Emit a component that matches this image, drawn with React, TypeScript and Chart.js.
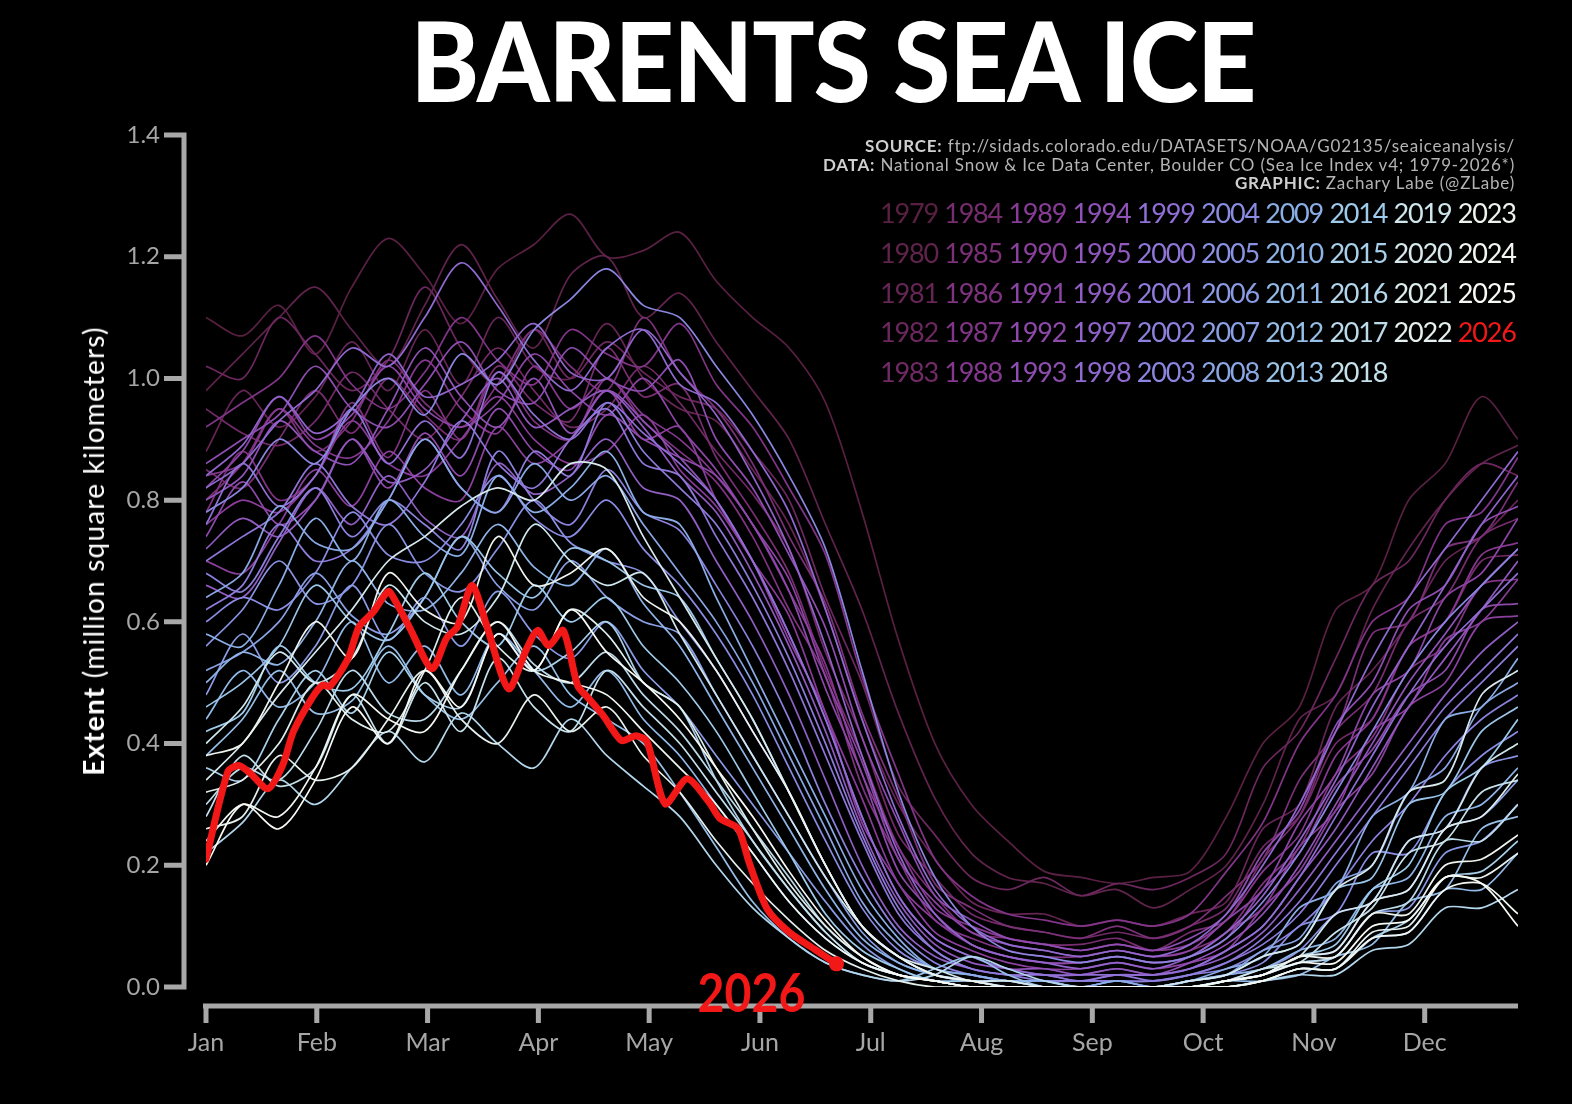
import React, { useEffect, useRef } from 'react'
import Chart from 'chart.js/auto'

// ---- data (million km²) ----
const monthLabels = ['Jan', 'Feb', 'Mar', 'Apr', 'May', 'Jun', 'Jul', 'Aug', 'Sep', 'Oct', 'Nov', 'Dec']
const monthTicks = [0, 30.4, 60.8, 91.2, 121.6, 152, 182.4, 212.8, 243.2, 273.6, 304, 334.4]
const yTicks = [0, 0.2, 0.4, 0.6, 0.8, 1.0, 1.2, 1.4]

// day of year for every yearly series below
const dayGrid = [0, 10, 20, 30, 40, 50, 60, 70, 80, 90, 100, 110, 120, 130, 140, 150, 160, 170, 180, 190, 200, 210, 220, 230, 240, 250, 260, 270, 280, 290, 300, 310, 320, 330, 340, 350, 360]

const ext1979 = [1.10, 1.07, 1.12, 1.04, 1.15, 1.23, 1.17, 1.09, 1.18, 1.22, 1.27, 1.20, 1.21, 1.24, 1.16, 1.10, 1.05, 0.96, 0.78, 0.57, 0.40, 0.30, 0.24, 0.19, 0.18, 0.17, 0.18, 0.19, 0.28, 0.40, 0.46, 0.62, 0.66, 0.80, 0.86, 0.97, 0.90]
const ext1980 = [0.98, 1.04, 1.10, 1.15, 1.08, 1.02, 1.12, 1.22, 1.13, 1.05, 1.17, 1.20, 1.10, 1.14, 1.06, 0.98, 0.90, 0.76, 0.62, 0.45, 0.31, 0.22, 0.18, 0.17, 0.15, 0.16, 0.13, 0.16, 0.20, 0.30, 0.44, 0.48, 0.62, 0.72, 0.80, 0.86, 0.89]
const ext1981 = [0.88, 0.98, 0.92, 0.97, 1.06, 0.98, 1.08, 0.99, 1.10, 1.02, 1.00, 1.09, 1.00, 0.95, 0.93, 0.85, 0.76, 0.62, 0.44, 0.30, 0.21, 0.14, 0.12, 0.12, 0.10, 0.11, 0.10, 0.12, 0.14, 0.26, 0.30, 0.46, 0.52, 0.60, 0.70, 0.74, 0.80]
const ext1982 = [1.02, 1.00, 1.10, 1.04, 0.98, 1.03, 1.15, 1.05, 0.99, 1.08, 1.00, 1.06, 1.01, 0.97, 0.95, 0.88, 0.80, 0.64, 0.50, 0.33, 0.25, 0.18, 0.16, 0.18, 0.15, 0.17, 0.16, 0.18, 0.22, 0.36, 0.42, 0.54, 0.66, 0.70, 0.80, 0.86, 0.84]
const ext1983 = [0.95, 0.91, 0.89, 0.93, 1.01, 0.95, 0.90, 0.97, 1.05, 0.98, 0.92, 0.95, 1.02, 0.96, 0.88, 0.81, 0.72, 0.55, 0.41, 0.25, 0.18, 0.12, 0.10, 0.09, 0.08, 0.09, 0.08, 0.10, 0.13, 0.23, 0.28, 0.40, 0.44, 0.56, 0.60, 0.70, 0.71]
const ext1984 = [0.85, 0.82, 0.90, 0.98, 0.91, 1.00, 0.94, 0.90, 1.02, 0.96, 0.93, 1.05, 0.97, 0.99, 0.87, 0.78, 0.68, 0.52, 0.38, 0.23, 0.15, 0.09, 0.08, 0.07, 0.07, 0.08, 0.06, 0.09, 0.11, 0.21, 0.28, 0.42, 0.48, 0.60, 0.64, 0.74, 0.77]
const ext1985 = [0.80, 0.86, 0.95, 0.88, 0.93, 1.03, 0.96, 0.92, 0.99, 1.08, 1.02, 0.98, 1.10, 1.01, 0.95, 0.86, 0.74, 0.63, 0.45, 0.31, 0.17, 0.13, 0.10, 0.09, 0.08, 0.10, 0.08, 0.10, 0.15, 0.21, 0.34, 0.42, 0.58, 0.60, 0.72, 0.74, 0.83]
const ext1986 = [0.78, 0.88, 0.80, 0.84, 0.96, 0.87, 0.98, 0.90, 1.01, 0.93, 0.90, 1.00, 0.93, 0.88, 0.83, 0.74, 0.62, 0.51, 0.33, 0.21, 0.11, 0.08, 0.06, 0.05, 0.05, 0.06, 0.05, 0.06, 0.09, 0.17, 0.23, 0.35, 0.41, 0.52, 0.56, 0.66, 0.67]
const ext1987 = [0.92, 0.96, 1.00, 1.07, 0.99, 0.95, 1.01, 1.10, 1.03, 0.99, 1.08, 1.04, 1.02, 1.09, 0.99, 0.92, 0.82, 0.71, 0.51, 0.35, 0.21, 0.15, 0.12, 0.11, 0.10, 0.11, 0.10, 0.12, 0.19, 0.27, 0.40, 0.48, 0.60, 0.64, 0.76, 0.78, 0.87]
const ext1988 = [0.84, 0.86, 0.95, 0.89, 0.87, 0.93, 1.03, 0.95, 0.91, 1.02, 0.95, 1.00, 0.94, 0.90, 0.84, 0.76, 0.65, 0.53, 0.35, 0.23, 0.13, 0.10, 0.08, 0.07, 0.06, 0.07, 0.06, 0.07, 0.11, 0.19, 0.25, 0.38, 0.44, 0.56, 0.60, 0.71, 0.73]
const ext1989 = [0.76, 0.80, 0.78, 0.84, 0.93, 0.86, 0.84, 0.90, 0.97, 0.90, 0.86, 0.88, 0.94, 0.85, 0.79, 0.70, 0.61, 0.45, 0.31, 0.17, 0.11, 0.07, 0.05, 0.04, 0.04, 0.05, 0.04, 0.05, 0.09, 0.13, 0.23, 0.29, 0.42, 0.46, 0.57, 0.60, 0.67]
const ext1990 = [0.70, 0.68, 0.76, 0.85, 0.79, 0.88, 0.82, 0.80, 0.92, 0.86, 0.90, 0.98, 0.90, 0.92, 0.80, 0.70, 0.57, 0.45, 0.27, 0.17, 0.09, 0.06, 0.04, 0.03, 0.03, 0.04, 0.03, 0.04, 0.06, 0.13, 0.19, 0.29, 0.35, 0.46, 0.50, 0.60, 0.61]
const ext1991 = [0.82, 0.88, 0.97, 0.90, 0.94, 1.02, 0.95, 0.92, 0.96, 1.04, 0.98, 0.94, 1.00, 0.92, 0.85, 0.76, 0.67, 0.51, 0.37, 0.21, 0.14, 0.09, 0.07, 0.06, 0.05, 0.06, 0.05, 0.06, 0.11, 0.16, 0.27, 0.35, 0.48, 0.52, 0.64, 0.68, 0.77]
const ext1992 = [0.74, 0.83, 0.76, 0.80, 0.90, 0.82, 0.91, 0.84, 0.95, 0.88, 0.85, 0.94, 0.90, 0.87, 0.84, 0.76, 0.65, 0.49, 0.35, 0.19, 0.12, 0.07, 0.05, 0.04, 0.04, 0.05, 0.04, 0.05, 0.08, 0.16, 0.22, 0.33, 0.39, 0.48, 0.52, 0.62, 0.63]
const ext1993 = [0.86, 0.90, 0.94, 1.02, 0.95, 0.92, 0.99, 1.06, 0.98, 0.96, 1.05, 1.00, 0.98, 1.03, 0.90, 0.82, 0.71, 0.59, 0.41, 0.27, 0.15, 0.11, 0.08, 0.07, 0.06, 0.07, 0.06, 0.08, 0.12, 0.22, 0.29, 0.43, 0.50, 0.62, 0.66, 0.76, 0.79]
const ext1994 = [0.80, 0.84, 0.93, 0.88, 0.86, 0.95, 1.05, 0.97, 0.92, 1.00, 0.91, 0.98, 0.93, 0.87, 0.80, 0.70, 0.58, 0.44, 0.28, 0.15, 0.08, 0.05, 0.03, 0.03, 0.02, 0.03, 0.02, 0.04, 0.07, 0.12, 0.20, 0.30, 0.40, 0.50, 0.58, 0.66, 0.72]
const ext1995 = [0.72, 0.77, 0.74, 0.80, 0.90, 0.83, 0.85, 0.93, 1.00, 0.92, 0.95, 0.98, 0.92, 0.84, 0.78, 0.68, 0.56, 0.42, 0.26, 0.14, 0.07, 0.04, 0.03, 0.02, 0.02, 0.03, 0.02, 0.03, 0.06, 0.10, 0.18, 0.26, 0.36, 0.46, 0.54, 0.62, 0.70]
const ext1996 = [0.66, 0.64, 0.73, 0.82, 0.76, 0.84, 0.77, 0.74, 0.86, 0.81, 0.84, 0.90, 0.82, 0.80, 0.70, 0.60, 0.48, 0.34, 0.20, 0.10, 0.05, 0.03, 0.02, 0.02, 0.01, 0.02, 0.02, 0.03, 0.05, 0.09, 0.16, 0.24, 0.32, 0.40, 0.48, 0.55, 0.60]
const ext1997 = [0.84, 0.89, 0.97, 0.91, 0.95, 1.04, 0.97, 0.99, 1.03, 1.09, 1.01, 1.00, 1.08, 1.01, 0.94, 0.84, 0.72, 0.56, 0.38, 0.22, 0.12, 0.07, 0.05, 0.04, 0.03, 0.04, 0.03, 0.05, 0.09, 0.15, 0.24, 0.34, 0.46, 0.56, 0.66, 0.76, 0.84]
const ext1998 = [0.82, 0.86, 0.93, 0.98, 1.05, 1.02, 1.10, 1.19, 1.12, 1.03, 0.98, 1.05, 1.08, 0.99, 0.96, 0.88, 0.78, 0.62, 0.44, 0.28, 0.16, 0.10, 0.07, 0.06, 0.05, 0.06, 0.05, 0.07, 0.12, 0.20, 0.30, 0.42, 0.54, 0.64, 0.72, 0.80, 0.88]
const ext1999 = [0.76, 0.86, 0.79, 0.84, 0.95, 0.86, 0.93, 0.87, 1.01, 0.94, 0.90, 0.96, 0.91, 0.86, 0.80, 0.70, 0.58, 0.44, 0.28, 0.15, 0.08, 0.05, 0.03, 0.02, 0.02, 0.02, 0.02, 0.03, 0.06, 0.10, 0.18, 0.28, 0.38, 0.48, 0.56, 0.62, 0.68]
const ext2000 = [0.70, 0.74, 0.78, 0.86, 0.79, 0.76, 0.83, 0.93, 0.86, 0.82, 0.90, 0.95, 0.86, 0.84, 0.74, 0.64, 0.52, 0.38, 0.24, 0.12, 0.06, 0.03, 0.02, 0.02, 0.01, 0.02, 0.01, 0.02, 0.04, 0.08, 0.14, 0.22, 0.30, 0.38, 0.46, 0.52, 0.58]
const ext2001 = [0.62, 0.66, 0.76, 0.70, 0.72, 0.80, 0.90, 0.82, 0.78, 0.88, 0.84, 0.96, 0.88, 0.82, 0.76, 0.66, 0.54, 0.40, 0.25, 0.13, 0.06, 0.03, 0.02, 0.01, 0.01, 0.01, 0.01, 0.02, 0.04, 0.07, 0.12, 0.20, 0.28, 0.36, 0.44, 0.50, 0.56]
const ext2002 = [0.68, 0.65, 0.74, 0.82, 0.74, 0.80, 0.76, 0.72, 0.88, 0.80, 0.76, 0.85, 0.78, 0.75, 0.66, 0.56, 0.44, 0.30, 0.18, 0.09, 0.04, 0.02, 0.01, 0.01, 0.01, 0.01, 0.01, 0.02, 0.03, 0.06, 0.10, 0.16, 0.24, 0.30, 0.38, 0.44, 0.48]
const ext2003 = [0.78, 0.82, 0.90, 0.86, 0.95, 1.00, 0.94, 1.04, 0.99, 1.08, 1.13, 1.18, 1.12, 1.10, 1.02, 0.94, 0.84, 0.72, 0.52, 0.32, 0.18, 0.10, 0.06, 0.05, 0.04, 0.05, 0.04, 0.05, 0.08, 0.14, 0.22, 0.32, 0.42, 0.52, 0.60, 0.66, 0.72]
const ext2004 = [0.60, 0.64, 0.62, 0.68, 0.78, 0.71, 0.70, 0.76, 0.84, 0.77, 0.74, 0.80, 0.72, 0.66, 0.58, 0.48, 0.36, 0.24, 0.13, 0.06, 0.03, 0.02, 0.01, 0.01, 0.00, 0.01, 0.00, 0.01, 0.02, 0.04, 0.10, 0.12, 0.22, 0.22, 0.32, 0.38, 0.42]
const ext2005 = [0.56, 0.62, 0.70, 0.63, 0.66, 0.76, 0.68, 0.65, 0.72, 0.80, 0.73, 0.70, 0.68, 0.60, 0.52, 0.42, 0.32, 0.20, 0.10, 0.05, 0.02, 0.01, 0.01, 0.00, 0.00, 0.00, 0.00, 0.01, 0.02, 0.03, 0.06, 0.12, 0.14, 0.24, 0.26, 0.36, 0.38]
const ext2006 = [0.48, 0.58, 0.50, 0.56, 0.66, 0.57, 0.64, 0.56, 0.65, 0.58, 0.54, 0.60, 0.52, 0.46, 0.38, 0.30, 0.22, 0.14, 0.07, 0.03, 0.01, 0.01, 0.00, 0.00, 0.00, 0.00, 0.00, 0.00, 0.01, 0.02, 0.04, 0.05, 0.12, 0.13, 0.22, 0.24, 0.30]
const ext2007 = [0.52, 0.55, 0.60, 0.68, 0.61, 0.58, 0.64, 0.74, 0.66, 0.62, 0.70, 0.64, 0.60, 0.58, 0.48, 0.38, 0.28, 0.18, 0.09, 0.04, 0.02, 0.01, 0.00, 0.00, 0.00, 0.00, 0.00, 0.00, 0.01, 0.02, 0.05, 0.06, 0.14, 0.16, 0.26, 0.28, 0.34]
const ext2008 = [0.64, 0.68, 0.79, 0.73, 0.72, 0.80, 0.90, 0.82, 0.78, 0.86, 0.80, 0.84, 0.76, 0.68, 0.60, 0.50, 0.38, 0.26, 0.14, 0.07, 0.03, 0.02, 0.01, 0.01, 0.00, 0.01, 0.00, 0.01, 0.02, 0.06, 0.08, 0.17, 0.20, 0.32, 0.36, 0.46, 0.50]
const ext2009 = [0.58, 0.56, 0.66, 0.77, 0.70, 0.80, 0.74, 0.71, 0.84, 0.78, 0.82, 0.88, 0.78, 0.76, 0.64, 0.52, 0.40, 0.28, 0.16, 0.08, 0.03, 0.02, 0.01, 0.01, 0.00, 0.01, 0.00, 0.01, 0.03, 0.05, 0.13, 0.16, 0.28, 0.32, 0.44, 0.46, 0.54]
const ext2010 = [0.50, 0.55, 0.53, 0.60, 0.70, 0.63, 0.62, 0.68, 0.76, 0.69, 0.66, 0.72, 0.63, 0.56, 0.46, 0.36, 0.26, 0.16, 0.08, 0.04, 0.02, 0.01, 0.00, 0.00, 0.00, 0.00, 0.00, 0.01, 0.02, 0.03, 0.06, 0.08, 0.16, 0.18, 0.28, 0.30, 0.36]
const ext2011 = [0.44, 0.52, 0.46, 0.50, 0.60, 0.50, 0.56, 0.48, 0.58, 0.52, 0.46, 0.52, 0.44, 0.38, 0.30, 0.22, 0.14, 0.08, 0.04, 0.02, 0.01, 0.00, 0.00, 0.00, 0.00, 0.00, 0.00, 0.00, 0.01, 0.01, 0.03, 0.03, 0.08, 0.09, 0.16, 0.16, 0.22]
const ext2012 = [0.38, 0.44, 0.52, 0.45, 0.47, 0.56, 0.48, 0.44, 0.50, 0.56, 0.48, 0.44, 0.40, 0.32, 0.23, 0.14, 0.08, 0.04, 0.02, 0.01, 0.03, 0.05, 0.02, 0.00, 0.00, 0.00, 0.00, 0.00, 0.00, 0.01, 0.02, 0.05, 0.07, 0.14, 0.16, 0.26, 0.28]
const ext2013 = [0.46, 0.50, 0.56, 0.66, 0.60, 0.57, 0.64, 0.74, 0.68, 0.64, 0.72, 0.70, 0.66, 0.64, 0.54, 0.44, 0.32, 0.20, 0.10, 0.05, 0.02, 0.01, 0.01, 0.00, 0.00, 0.00, 0.00, 0.01, 0.02, 0.05, 0.07, 0.16, 0.18, 0.30, 0.32, 0.42, 0.46]
const ext2014 = [0.42, 0.45, 0.56, 0.50, 0.49, 0.58, 0.68, 0.60, 0.56, 0.66, 0.60, 0.64, 0.56, 0.50, 0.42, 0.32, 0.22, 0.12, 0.06, 0.03, 0.01, 0.01, 0.00, 0.00, 0.00, 0.00, 0.00, 0.00, 0.01, 0.02, 0.05, 0.07, 0.16, 0.20, 0.32, 0.36, 0.44]
const ext2015 = [0.36, 0.34, 0.44, 0.52, 0.45, 0.55, 0.48, 0.46, 0.58, 0.52, 0.55, 0.60, 0.50, 0.46, 0.34, 0.24, 0.16, 0.09, 0.04, 0.02, 0.01, 0.00, 0.00, 0.00, 0.00, 0.00, 0.00, 0.00, 0.00, 0.01, 0.03, 0.03, 0.08, 0.11, 0.18, 0.19, 0.24]
const ext2016 = [0.22, 0.27, 0.34, 0.30, 0.36, 0.42, 0.37, 0.45, 0.40, 0.36, 0.44, 0.38, 0.33, 0.28, 0.20, 0.13, 0.08, 0.04, 0.02, 0.01, 0.02, 0.05, 0.03, 0.01, 0.00, 0.00, 0.00, 0.00, 0.00, 0.01, 0.02, 0.02, 0.06, 0.07, 0.13, 0.13, 0.16]
const ext2017 = [0.30, 0.36, 0.34, 0.42, 0.52, 0.45, 0.44, 0.52, 0.60, 0.53, 0.50, 0.55, 0.48, 0.42, 0.34, 0.26, 0.18, 0.10, 0.05, 0.02, 0.01, 0.00, 0.00, 0.00, 0.00, 0.00, 0.00, 0.00, 0.01, 0.02, 0.04, 0.05, 0.12, 0.14, 0.24, 0.24, 0.30]
const ext2018 = [0.28, 0.38, 0.33, 0.36, 0.48, 0.40, 0.50, 0.42, 0.54, 0.46, 0.42, 0.52, 0.46, 0.40, 0.32, 0.24, 0.16, 0.09, 0.04, 0.02, 0.01, 0.00, 0.00, 0.00, 0.00, 0.00, 0.00, 0.00, 0.01, 0.03, 0.04, 0.09, 0.13, 0.22, 0.24, 0.32, 0.34]
const ext2019 = [0.40, 0.46, 0.55, 0.50, 0.54, 0.66, 0.60, 0.58, 0.64, 0.76, 0.70, 0.66, 0.68, 0.58, 0.48, 0.38, 0.28, 0.18, 0.10, 0.05, 0.02, 0.01, 0.00, 0.00, 0.00, 0.00, 0.00, 0.00, 0.01, 0.03, 0.05, 0.12, 0.14, 0.24, 0.26, 0.36, 0.40]
const ext2020 = [0.34, 0.40, 0.48, 0.55, 0.62, 0.70, 0.74, 0.79, 0.82, 0.80, 0.86, 0.85, 0.74, 0.64, 0.54, 0.44, 0.32, 0.20, 0.10, 0.05, 0.03, 0.01, 0.01, 0.00, 0.00, 0.00, 0.00, 0.01, 0.02, 0.05, 0.07, 0.16, 0.20, 0.32, 0.34, 0.48, 0.52]
const ext2021 = [0.32, 0.34, 0.40, 0.50, 0.44, 0.42, 0.52, 0.64, 0.56, 0.52, 0.62, 0.58, 0.50, 0.46, 0.36, 0.26, 0.17, 0.10, 0.05, 0.02, 0.01, 0.00, 0.00, 0.00, 0.00, 0.00, 0.00, 0.00, 0.01, 0.02, 0.05, 0.06, 0.14, 0.16, 0.26, 0.28, 0.35]
const ext2022 = [0.26, 0.28, 0.38, 0.34, 0.36, 0.44, 0.52, 0.44, 0.40, 0.48, 0.42, 0.46, 0.38, 0.32, 0.24, 0.17, 0.11, 0.06, 0.03, 0.01, 0.00, 0.00, 0.00, 0.00, 0.00, 0.00, 0.00, 0.00, 0.00, 0.01, 0.03, 0.03, 0.09, 0.10, 0.18, 0.18, 0.22]
const ext2023 = [0.38, 0.40, 0.50, 0.60, 0.54, 0.68, 0.62, 0.60, 0.74, 0.66, 0.68, 0.72, 0.64, 0.60, 0.52, 0.42, 0.32, 0.20, 0.10, 0.05, 0.02, 0.01, 0.00, 0.00, 0.00, 0.00, 0.00, 0.00, 0.01, 0.02, 0.05, 0.05, 0.12, 0.12, 0.20, 0.21, 0.25]
const ext2024 = [0.24, 0.30, 0.28, 0.36, 0.48, 0.44, 0.42, 0.52, 0.60, 0.52, 0.50, 0.48, 0.42, 0.36, 0.30, 0.22, 0.14, 0.08, 0.04, 0.02, 0.01, 0.00, 0.00, 0.00, 0.00, 0.00, 0.00, 0.00, 0.00, 0.01, 0.03, 0.03, 0.08, 0.09, 0.16, 0.17, 0.12]
const ext2025 = [0.20, 0.30, 0.26, 0.34, 0.46, 0.40, 0.52, 0.46, 0.58, 0.52, 0.62, 0.55, 0.50, 0.44, 0.36, 0.28, 0.19, 0.11, 0.05, 0.02, 0.01, 0.00, 0.00, 0.00, 0.00, 0.00, 0.00, 0.00, 0.01, 0.02, 0.04, 0.04, 0.10, 0.11, 0.18, 0.17, 0.10]

// 2026 so far (own day axis, ends late June)
const days2026 = [0, 6, 9, 12, 17, 21, 24, 29, 32, 34, 39, 42, 46, 50, 52, 56, 62, 66, 69, 73, 77, 83, 88, 91, 94, 98, 102, 105, 109, 114, 118, 121, 126, 132, 138, 141, 146, 149, 154, 160, 167, 173]
const ext2026 = [0.21, 0.354, 0.364, 0.352, 0.326, 0.364, 0.42, 0.474, 0.496, 0.494, 0.54, 0.592, 0.617, 0.65, 0.634, 0.589, 0.523, 0.573, 0.592, 0.66, 0.594, 0.49, 0.556, 0.586, 0.561, 0.586, 0.495, 0.474, 0.446, 0.405, 0.413, 0.403, 0.301, 0.342, 0.304, 0.277, 0.26, 0.205, 0.128, 0.09, 0.062, 0.038]

const yearSeries = [
  { year: 1979, values: ext1979 }, { year: 1980, values: ext1980 }, { year: 1981, values: ext1981 },
  { year: 1982, values: ext1982 }, { year: 1983, values: ext1983 }, { year: 1984, values: ext1984 },
  { year: 1985, values: ext1985 }, { year: 1986, values: ext1986 }, { year: 1987, values: ext1987 },
  { year: 1988, values: ext1988 }, { year: 1989, values: ext1989 }, { year: 1990, values: ext1990 },
  { year: 1991, values: ext1991 }, { year: 1992, values: ext1992 }, { year: 1993, values: ext1993 },
  { year: 1994, values: ext1994 }, { year: 1995, values: ext1995 }, { year: 1996, values: ext1996 },
  { year: 1997, values: ext1997 }, { year: 1998, values: ext1998 }, { year: 1999, values: ext1999 },
  { year: 2000, values: ext2000 }, { year: 2001, values: ext2001 }, { year: 2002, values: ext2002 },
  { year: 2003, values: ext2003 }, { year: 2004, values: ext2004 }, { year: 2005, values: ext2005 },
  { year: 2006, values: ext2006 }, { year: 2007, values: ext2007 }, { year: 2008, values: ext2008 },
  { year: 2009, values: ext2009 }, { year: 2010, values: ext2010 }, { year: 2011, values: ext2011 },
  { year: 2012, values: ext2012 }, { year: 2013, values: ext2013 }, { year: 2014, values: ext2014 },
  { year: 2015, values: ext2015 }, { year: 2016, values: ext2016 }, { year: 2017, values: ext2017 },
  { year: 2018, values: ext2018 }, { year: 2019, values: ext2019 }, { year: 2020, values: ext2020 },
  { year: 2021, values: ext2021 }, { year: 2022, values: ext2022 }, { year: 2023, values: ext2023 },
  { year: 2024, values: ext2024 }, { year: 2025, values: ext2025 },
]

// ---- styling ----
const FONT = 'Lato, "Open Sans", sans-serif'
const AXIS_GRAY = '#a8a8a8'
const RED = '#f21818'

// colour ramp: dark plum -> purple -> periwinkle -> ice blue -> white
const colorStops: [number, string][] = [
  [1979, '#5a2043'], [1984, '#782d70'], [1989, '#893b98'], [1994, '#9152b8'],
  [1999, '#9070d6'], [2004, '#8a8ce2'], [2009, '#8aaee6'], [2014, '#9ecbea'],
  [2019, '#cfe6ec'], [2023, '#eef3ee'], [2025, '#f8faf6'],
]

function hexToRgb(h: string) {
  const n = parseInt(h.slice(1), 16)
  return [(n >> 16) & 255, (n >> 8) & 255, n & 255]
}

function yearColor(year: number) {
  if (year >= 2026) return RED
  for (let i = 0; i < colorStops.length - 1; i++) {
    const [y0, c0] = colorStops[i]
    const [y1, c1] = colorStops[i + 1]
    if (year >= y0 && year <= y1) {
      const t = (year - y0) / (y1 - y0)
      const a = hexToRgb(c0)
      const b = hexToRgb(c1)
      const m = a.map((v, k) => Math.round(v + (b[k] - v) * t))
      return `rgb(${m[0]}, ${m[1]}, ${m[2]})`
    }
  }
  return colorStops[colorStops.length - 1][1]
}

// offset spines like the matplotlib original, plus the "2026" tag
const spinesPlugin = {
  id: 'offsetSpines',
  afterDraw(chart: any) {
    const { ctx } = chart
    const x = chart.scales.x
    const y = chart.scales.y
    const x0 = x.getPixelForValue(0)
    const yBot = y.getPixelForValue(0)
    const sx = x0 - 22
    const sy = yBot + 19

    ctx.save()
    ctx.strokeStyle = AXIS_GRAY
    ctx.lineWidth = 5
    ctx.lineCap = 'butt'
    ctx.beginPath()
    ctx.moveTo(sx, y.getPixelForValue(1.4) - 2.5)
    ctx.lineTo(sx, yBot + 2.5)
    y.ticks.forEach((t: any) => {
      const p = y.getPixelForValue(t.value)
      ctx.moveTo(sx, p)
      ctx.lineTo(sx - 20, p)
    })
    ctx.moveTo(x0 - 3, sy)
    ctx.lineTo(x.getPixelForValue(360), sy)
    x.ticks.forEach((t: any) => {
      const p = x.getPixelForValue(t.value)
      ctx.moveTo(p, sy)
      ctx.lineTo(p, sy + 17)
    })
    ctx.stroke()

    const idx = chart.data.datasets.findIndex((d: any) => d.label === '2026')
    const pts = chart.getDatasetMeta(idx).data
    const last = pts[pts.length - 1]
    ctx.translate(last.x - 85, yBot + 25)
    ctx.scale(0.86, 1)
    ctx.fillStyle = RED
    ctx.font = `bold 54px ${FONT}`
    ctx.textAlign = 'center'
    ctx.textBaseline = 'alphabetic'
    ctx.fillText('2026', 0, 0)
    ctx.restore()
  },
}

const legendYears = [...yearSeries.map(s => s.year), 2026]

function legendPos(i: number) {
  if (i < 40) return { col: Math.floor(i / 5), row: i % 5 }
  const j = i - 40
  return { col: 8 + Math.floor(j / 4), row: j % 4 }
}

export default function App() {
  const canvasRef = useRef<HTMLCanvasElement>(null)

  useEffect(() => {
    if (!canvasRef.current) return
    const last2026 = days2026.length - 1

    const datasets: any[] = yearSeries.map(({ year, values }) => ({
      label: String(year),
      data: dayGrid.map((d, i) => ({ x: d, y: values[i] })),
      borderColor: yearColor(year),
      borderWidth: 1.7,
      pointRadius: 0,
      tension: 0.3,
      order: 2100 - year,
    }))

    datasets.push({
      label: '2026',
      data: days2026.map((d, i) => ({ x: d, y: ext2026[i] })),
      borderColor: RED,
      borderWidth: 7,
      tension: 0.25,
      borderJoinStyle: 'round',
      borderCapStyle: 'round',
      pointRadius: (c: any) => (c.dataIndex === last2026 ? 7.5 : 0),
      pointBackgroundColor: RED,
      pointBorderWidth: 0,
      order: 0,
    })

    const chart = new Chart(canvasRef.current, {
      type: 'line',
      data: { datasets },
      options: {
        animation: false,
        responsive: false,
        events: [],
        layout: { padding: { top: 135, right: 54, left: 0, bottom: 0 } },
        plugins: {
          legend: { display: false },
          tooltip: { enabled: false },
        },
        scales: {
          x: {
            type: 'linear',
            min: 0,
            max: 360,
            afterBuildTicks: (axis: any) => {
              axis.ticks = monthTicks.map(v => ({ value: v }))
            },
            afterFit: (s: any) => {
              s.height = 117
            },
            grid: { display: false, drawTicks: false },
            border: { display: false },
            ticks: {
              autoSkip: false,
              maxRotation: 0,
              padding: 41,
              color: '#a6a6a6',
              font: { family: FONT, size: 25 },
              callback: (_v: any, i: number) => monthLabels[i],
            },
          },
          y: {
            min: 0,
            max: 1.4,
            afterBuildTicks: (axis: any) => {
              axis.ticks = yTicks.map(v => ({ value: v }))
            },
            afterFit: (s: any) => {
              s.width = 206
            },
            grid: { display: false, drawTicks: false },
            border: { display: false },
            ticks: {
              padding: 46,
              color: '#a6a6a6',
              font: { family: FONT, size: 24 },
              callback: (v: any) => Number(v).toFixed(1),
            },
          },
        },
      },
      plugins: [spinesPlugin],
    })

    return () => chart.destroy()
  }, [])

  return (
    <div
      style={{
        position: 'fixed',
        left: 0,
        top: 0,
        width: 1572,
        height: 1104,
        background: '#000',
        overflow: 'hidden',
        fontFamily: FONT,
      }}
    >
      <canvas ref={canvasRef} width={1572} height={1104} style={{ position: 'absolute', left: 0, top: 0 }} />

      <div
        style={{
          position: 'absolute',
          left: 833,
          top: -7,
          transform: 'translateX(-50%) scaleX(0.94)',
          color: '#fff',
          fontSize: 110,
          fontWeight: 900,
          lineHeight: '132px',
          whiteSpace: 'nowrap',
          letterSpacing: -1,
        }}
      >
        BARENTS SEA ICE
      </div>

      <div
        style={{
          position: 'absolute',
          right: 57,
          top: 137,
          textAlign: 'right',
          color: '#b4b4b4',
          fontSize: 17,
          letterSpacing: 0.8,
          lineHeight: '18.5px',
          whiteSpace: 'nowrap',
        }}
      >
        <div><b style={{ color: '#cfcfcf' }}>SOURCE:</b> ftp://sidads.colorado.edu/DATASETS/NOAA/G02135/seaiceanalysis/</div>
        <div><b style={{ color: '#cfcfcf' }}>DATA:</b> National Snow &amp; Ice Data Center, Boulder CO (Sea Ice Index v4; 1979-2026*)</div>
        <div><b style={{ color: '#cfcfcf' }}>GRAPHIC:</b> Zachary Labe (@ZLabe)</div>
      </div>

      {legendYears.map((yr, i) => {
        const { col, row } = legendPos(i)
        return (
          <div
            key={yr}
            style={{
              position: 'absolute',
              left: 880 + col * 64.2,
              top: 213 + row * 39.8 - 15,
              lineHeight: '30px',
              fontSize: 27,
              letterSpacing: -1.2,
              color: yearColor(yr),
              whiteSpace: 'nowrap',
            }}
          >
            {yr}
          </div>
        )
      })}

      <div
        style={{
          position: 'absolute',
          left: 93,
          top: 551,
          transform: 'translate(-50%, -50%) rotate(-90deg)',
          color: '#fff',
          fontSize: 28,
          letterSpacing: 1.2,
          whiteSpace: 'nowrap',
        }}
      >
        <b>Extent</b> (million square kilometers)
      </div>
    </div>
  )
}
